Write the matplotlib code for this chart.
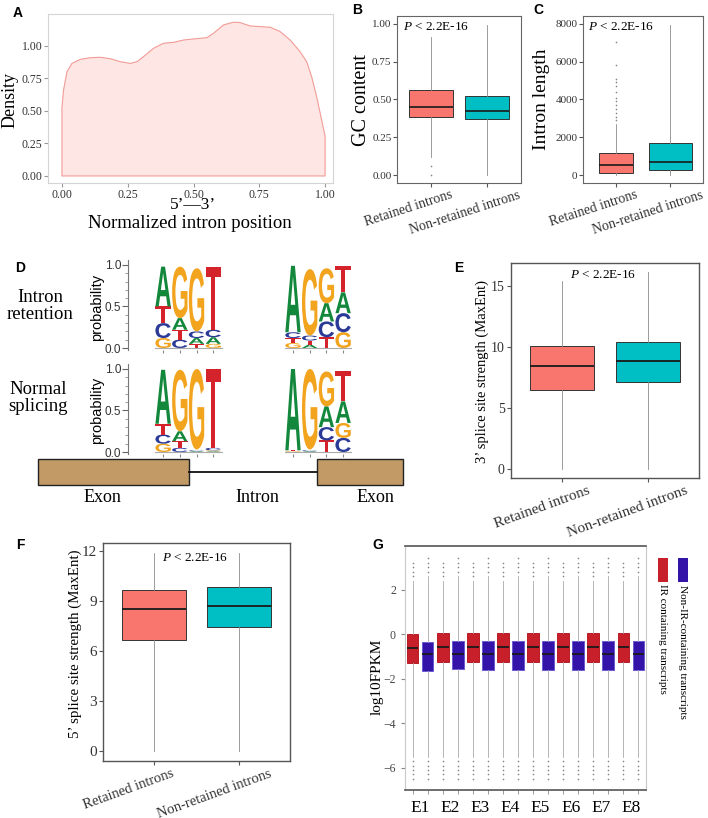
import numpy as np
import matplotlib
matplotlib.use("Agg")
import matplotlib.pyplot as plt
import matplotlib.transforms as mtransforms
from matplotlib.patches import PathPatch, Rectangle
from matplotlib.textpath import TextPath
from matplotlib.font_manager import FontProperties

plt.rcParams["font.family"] = "Liberation Serif"
plt.rcParams["mathtext.fontset"] = "custom"
plt.rcParams["mathtext.rm"] = "Liberation Serif"
plt.rcParams["mathtext.it"] = "Liberation Serif:italic"

# ---------------- data ----------------
# A: density of retained-intron positions along the normalized intron
pos_x = [0.0, 0.006, 0.019, 0.038, 0.07, 0.108, 0.146, 0.184, 0.222, 0.259, 0.285,
         0.31, 0.348, 0.386, 0.424, 0.462, 0.5, 0.551, 0.576, 0.614, 0.652, 0.677,
         0.715, 0.753, 0.791, 0.829, 0.867, 0.905, 0.93, 0.949, 0.968, 0.987, 1.0]
pos_density = [0.527, 0.661, 0.802, 0.866, 0.897, 0.91, 0.913, 0.902, 0.879, 0.866, 0.879,
               0.918, 0.982, 1.021, 1.028, 1.046, 1.054, 1.064, 1.098, 1.162, 1.183, 1.18,
               1.154, 1.149, 1.144, 1.111, 1.046, 0.956, 0.879, 0.763, 0.609, 0.429, 0.306]

groups = ["Retained introns", "Non-retained introns"]
group_colors = ["#F8766D", "#00BFC4"]

# B: GC content
gc_q1 = [0.383, 0.372]
gc_med = [0.448, 0.424]
gc_q3 = [0.561, 0.522]
gc_lo = [0.12, 0.0]
gc_hi = [0.91, 0.99]
gc_out = [[0.06, 0.0], []]

# C: intron length
len_q1 = [120, 260]
len_med = [554, 727]
len_q3 = [1160, 1731]
len_lo = [0, 0]
len_hi = [2700, 7950]
len_out = [[2900, 3100, 3300, 3500, 3700, 3900, 4100, 4400, 4700, 4900, 5100, 5800, 7050], []]

# E: 3' splice site strength
ss3_q1 = [6.48, 7.16]
ss3_med = [8.44, 8.88]
ss3_q3 = [10.08, 10.43]
ss3_lo = [0.0, 0.0]
ss3_hi = [15.43, 16.17]

# F: 5' splice site strength
ss5_q1 = [6.66, 7.42]
ss5_med = [8.5, 8.72]
ss5_q3 = [9.66, 9.82]
ss5_lo = [0.0, 0.0]
ss5_hi = [11.86, 11.86]

# D: sequence logos, probabilities per position in order A, C, G, T
bases = ["A", "C", "G", "T"]
ir_donor = [[0.48, 0.18, 0.12, 0.20], [0.14, 0.10, 0.62, 0.12],
            [0.07, 0.08, 0.76, 0.05], [0.08, 0.09, 0.05, 0.76]]
ir_acceptor = [[0.80, 0.07, 0.06, 0.06], [0.04, 0.06, 0.80, 0.05],
               [0.22, 0.19, 0.42, 0.13], [0.25, 0.23, 0.19, 0.32]]
ns_donor = [[0.65, 0.11, 0.10, 0.13], [0.12, 0.05, 0.74, 0.08],
            [0.01, 0.01, 0.97, 0.01], [0.01, 0.03, 0.01, 0.95]]
ns_acceptor = [[0.98, 0.0, 0.01, 0.01], [0.01, 0.01, 0.97, 0.01],
               [0.25, 0.16, 0.42, 0.14], [0.26, 0.17, 0.18, 0.36]]
base_colors = {"A": "#13883C", "C": "#2B3A97", "G": "#F2A41F", "T": "#D5232B"}

# G: log10 FPKM per experiment
expts = ["E1", "E2", "E3", "E4", "E5", "E6", "E7", "E8"]
ir_q1 = [-1.29, -1.25, -1.25, -1.25, -1.25, -1.25, -1.25, -1.25]
ir_med = [-0.60, -0.56, -0.57, -0.57, -0.57, -0.58, -0.58, -0.58]
ir_q3 = [0.00, 0.03, 0.04, 0.04, 0.04, 0.04, 0.04, 0.04]
ir_lo = [-5.5] * 8
ir_hi = [2.4] * 8
non_q1 = [-1.65, -1.57, -1.60, -1.60, -1.60, -1.60, -1.60, -1.60]
non_med = [-0.91, -0.90, -0.91, -0.91, -0.91, -0.91, -0.91, -0.91]
non_q3 = [-0.37, -0.31, -0.32, -0.32, -0.32, -0.32, -0.32, -0.32]
non_lo = [-5.5] * 8
non_hi = [2.6] * 8
ir_out = [-6.5, -6.3, -6.1, -5.9, -5.7, 2.6, 2.8, 3.0, 3.2]
non_out = [-6.5, -6.3, -6.1, -5.9, -5.7, 2.8, 3.0, 3.2, 3.4]
ir_color = "#C8202A"
non_color = "#3313A8"

# ---------------- helpers ----------------
W, H = 708, 818
fig = plt.figure(figsize=(7.08, 8.18), dpi=100)


def rect(l, t, r, b):
    return [l / W, 1 - b / H, (r - l) / W, (b - t) / H]


def ftext(x, y, s, **kw):
    return fig.text(x / W, 1 - y / H, s, **kw)


def frame(ax, color, lw=0.8):
    for s in ax.spines.values():
        s.set_color(color)
        s.set_linewidth(lw)


def draw_boxes(ax, q1, med, q3, lo, hi, out, positions, widths, colors,
               edge="#333333", whisk="#8c8c8c", med_lw=1.2):
    stats = [dict(q1=a, med=m, q3=b, whislo=l, whishi=h, fliers=f)
             for a, m, b, l, h, f in zip(q1, med, q3, lo, hi, out)]
    art = ax.bxp(stats, positions=positions, widths=widths, patch_artist=True,
                 showcaps=False,
                 boxprops=dict(edgecolor=edge, linewidth=0.7),
                 medianprops=dict(color="#1a1a1a", linewidth=med_lw),
                 whiskerprops=dict(color=whisk, linewidth=0.6),
                 flierprops=dict(marker="o", markersize=1.2, markerfacecolor="#888888",
                                 markeredgecolor="none"))
    for patch, c in zip(art["boxes"], colors):
        patch.set_facecolor(c)
    return art


def slant_labels(ax, rot, dx_px, size):
    offset = mtransforms.ScaledTranslation(dx_px / 100, 0, fig.dpi_scale_trans)
    for lab in ax.get_xticklabels():
        lab.set_rotation(rot)
        lab.set_ha("center")
        lab.set_fontsize(size)
        lab.set_transform(lab.get_transform() + offset)


def panel_label(x, y, s):
    ftext(x, y, s, ha="center", va="center", fontsize=10, fontweight="bold",
          family="Liberation Sans")


# ---------------- A ----------------
axA = fig.add_axes(rect(48, 14, 333, 183))
axA.fill(np.r_[pos_x, 1.0, 0.0], np.r_[pos_density, 0.0, 0.0],
         facecolor="#FDE6E4", edgecolor="#F29C97", lw=0.8)
axA.set_xlim(-0.053, 1.03)
axA.set_ylim(-0.054, 1.246)
axA.set_xticks([0, 0.25, 0.5, 0.75, 1.0], ["0.00", "0.25", "0.50", "0.75", "1.00"])
axA.set_yticks([0, 0.25, 0.5, 0.75, 1.0], ["0.00", "0.25", "0.50", "0.75", "1.00"])
axA.tick_params(labelsize=8.5, colors="#999999", labelcolor="#333333", length=3, pad=1)
frame(axA, "#d4d4d4")
ftext(10, 100, "Density", rotation=90, ha="center", va="center", fontsize=13)
ftext(193, 205, "5’—3’", ha="center", va="center", fontsize=12.5)
ftext(190, 223, "Normalized intron position", ha="center", va="center", fontsize=13.5)
panel_label(18, 13, "A")

# ---------------- B ----------------
axB = fig.add_axes(rect(397, 16, 521, 183))
draw_boxes(axB, gc_q1, gc_med, gc_q3, gc_lo, gc_hi, gc_out, [1, 2], 0.78, group_colors)
axB.set_xlim(0.4, 2.6)
axB.set_ylim(-0.05, 1.05)
axB.set_yticks([0, 0.25, 0.5, 0.75, 1.0], ["0.00", "0.25", "0.50", "0.75", "1.00"])
axB.set_xticks([1, 2], groups)
axB.tick_params(labelsize=8, colors="#555555", labelcolor="#333333", length=3, pad=1)
slant_labels(axB, 18, -22, 10)
frame(axB, "#666666")
axB.text(0.05, 0.935, r"$P$ < 2.2E-16", transform=axB.transAxes, fontsize=9.5, va="center")
ftext(361, 100, "GC content", rotation=90, ha="center", va="center", fontsize=14.5)
panel_label(357, 10, "B")

# ---------------- C ----------------
axC = fig.add_axes(rect(583, 16, 703, 183))
draw_boxes(axC, len_q1, len_med, len_q3, len_lo, len_hi, len_out, [1, 2], [0.62, 0.78],
           group_colors)
axC.set_xlim(0.4, 2.6)
axC.set_ylim(-400, 8400)
axC.set_yticks([0, 2000, 4000, 6000, 8000])
axC.set_xticks([1, 2], groups)
axC.tick_params(labelsize=8, colors="#555555", labelcolor="#333333", length=3, pad=1)
slant_labels(axC, 18, -22, 10)
frame(axC, "#666666")
axC.text(0.04, 0.935, r"$P$ < 2.2E-16", transform=axC.transAxes, fontsize=9.5, va="center")
ftext(541, 99, "Intron length", rotation=90, ha="center", va="center", fontsize=14)
panel_label(538, 10, "C")

# ---------------- D ----------------
LOGO_FONT = FontProperties(family="Liberation Sans", weight="bold")


def draw_letter(ax, ch, x, y, w, h):
    tp = TextPath((0, 0), ch, size=1, prop=LOGO_FONT)
    bb = tp.get_extents()
    tr = (mtransforms.Affine2D().translate(-bb.x0, -bb.y0)
          .scale(w / bb.width, h / bb.height).translate(x, y))
    ax.add_patch(PathPatch(tr.transform_path(tp), facecolor=base_colors[ch],
                           edgecolor="none"))


def draw_logo(ax, probs, start):
    for i, col in enumerate(probs):
        order = sorted(range(4), key=lambda k: col[k])
        y = 0.0
        for k in order:
            if col[k] > 0.004:
                draw_letter(ax, bases[k], start + i + 0.04, y, 0.92, col[k])
            y += col[k]
    ax.plot([start, start + len(probs)], [0, 0], color="#aaaaaa", lw=0.8)


logo_starts = [1.6, 9.37]
for (l, t, r, b), logos, ylab_y in [((128, 260, 362, 350), (ir_donor, ir_acceptor), 307),
                                    ((128, 364, 362, 454), (ns_donor, ns_acceptor), 410)]:
    ax = fig.add_axes(rect(l, t, r, b))
    for probs, st in zip(logos, logo_starts):
        draw_logo(ax, probs, st)
    ax.set_xlim(0, 14)
    ax.set_ylim(-0.024, 1.06)
    ax.set_yticks([0, 0.5, 1.0], ["0.0", "0.5", "1.0"])
    ax.set_yticks(np.arange(0, 1.01, 0.1), minor=True)
    centers = [st + i + 0.5 for st in logo_starts for i in range(4)]
    ax.set_xticks(centers, [""] * len(centers))
    ax.tick_params(axis="x", length=2, color="#888888")
    ax.tick_params(axis="y", which="major", length=4, color="#666666", labelsize=8.5,
                   labelcolor="#333333", pad=1)
    ax.tick_params(axis="y", which="minor", length=2, color="#888888")
    for lab in ax.get_yticklabels():
        lab.set_family("Liberation Sans")
    for s in ["top", "right", "bottom"]:
        ax.spines[s].set_visible(False)
    ax.spines["left"].set_color("#777777")
    ax.spines["left"].set_linewidth(0.8)
    ftext(97, ylab_y, "probability", rotation=90, ha="center", va="center",
          fontsize=10.5, family="Liberation Sans")

ftext(40, 306, "Intron\nretention", ha="center", va="center", fontsize=13.5, linespacing=0.95)
ftext(38, 398, "Normal\nsplicing", ha="center", va="center", fontsize=13.5, linespacing=0.95)

axGene = fig.add_axes(rect(30, 455, 410, 505))
axGene.set_xlim(0, 1)
axGene.set_ylim(0, 1)
axGene.axis("off")
axGene.plot([0.418, 0.755], [0.66, 0.66], color="#111111", lw=1.3)
for x0, x1 in [(0.021, 0.418), (0.755, 0.982)]:
    axGene.add_patch(Rectangle((x0, 0.40), x1 - x0, 0.52, facecolor="#C29A66",
                               edgecolor="#222222", lw=1.0))
ftext(102, 497, "Exon", ha="center", va="center", fontsize=13)
ftext(257, 497, "Intron", ha="center", va="center", fontsize=13)
ftext(375, 497, "Exon", ha="center", va="center", fontsize=13)
panel_label(20, 268, "D")

# ---------------- E ----------------
axE = fig.add_axes(rect(511, 263, 699, 478))
draw_boxes(axE, ss3_q1, ss3_med, ss3_q3, ss3_lo, ss3_hi, [[], []], [1, 2], 0.75,
           group_colors, med_lw=1.3)
axE.set_xlim(0.4, 2.6)
axE.set_ylim(-0.74, 16.9)
axE.set_yticks([0, 5, 10, 15])
axE.set_xticks([1, 2], groups)
axE.tick_params(labelsize=10, colors="#555555", labelcolor="#333333", length=3, pad=1.5)
slant_labels(axE, 20, -20, 11)
frame(axE, "#555555", 1.0)
axE.text(0.489, 0.944, r"$P$ < 2.2E-16", transform=axE.transAxes, fontsize=9.5,
         ha="center", va="center")
ftext(482, 371, "3’ splice site strength (MaxEnt)", rotation=90, ha="center", va="center",
      fontsize=10.5)
panel_label(459, 268, "E")

# ---------------- F ----------------
axF = fig.add_axes(rect(103, 543, 290, 761))
draw_boxes(axF, ss5_q1, ss5_med, ss5_q3, ss5_lo, ss5_hi, [[], []], [1, 2], 0.75,
           group_colors, med_lw=1.3)
axF.set_xlim(0.4, 2.6)
axF.set_ylim(-0.6, 12.48)
axF.set_yticks([0, 3, 6, 9, 12])
axF.set_xticks([1, 2], groups)
axF.tick_params(labelsize=11, colors="#555555", labelcolor="#333333", length=3, pad=1.5)
slant_labels(axF, 20, -25, 10.5)
frame(axF, "#555555", 1.0)
axF.text(0.49, 0.93, r"$P$ < 2.2E-16", transform=axF.transAxes, fontsize=9.5,
         ha="center", va="center")
ftext(75, 644, "5’ splice site strength (MaxEnt)", rotation=90, ha="center", va="center",
      fontsize=10.8)
panel_label(20, 545, "F")

# ---------------- G ----------------
axG = fig.add_axes(rect(405, 546, 646, 790))
xg = np.arange(1, len(expts) + 1)
draw_boxes(axG, ir_q1, ir_med, ir_q3, ir_lo, ir_hi, [ir_out] * len(expts), xg - 0.25, 0.39,
           [ir_color] * len(expts), edge="#B81C24", whisk="#aaaaaa", med_lw=1.3)
draw_boxes(axG, non_q1, non_med, non_q3, non_lo, non_hi, [non_out] * len(expts), xg + 0.25,
           0.39, [non_color] * len(expts), edge="#6a5ad0", whisk="#aaaaaa", med_lw=1.3)
axG.set_xlim(0.5, len(expts) + 0.5)
axG.set_ylim(-7.0, 3.96)
axG.set_yticks([-6, -4, -2, 0, 2])
axG.set_xticks(xg, expts)
axG.set_xticks(np.r_[xg - 0.25, xg + 0.25], minor=True)
axG.tick_params(axis="x", which="major", length=0, labelsize=12.5, pad=7)
axG.tick_params(axis="x", which="minor", length=3, color="#888888")
axG.tick_params(axis="y", labelsize=8.5, colors="#888888", labelcolor="#444444", length=3)
for s in ["left", "right"]:
    axG.spines[s].set_color("#c8c8c8")
    axG.spines[s].set_linewidth(0.8)
for s in ["top", "bottom"]:
    axG.spines[s].set_color("#555555")
    axG.spines[s].set_linewidth(1.2)
ftext(377, 677, "log10FPKM", rotation=90, ha="center", va="center", fontsize=11)

fig.add_artist(Rectangle((658 / W, 1 - 582 / H), 9.5 / W, 24 / H,
                         transform=fig.transFigure, facecolor=ir_color, edgecolor="none"))
fig.add_artist(Rectangle((678 / W, 1 - 582 / H), 9.5 / W, 24 / H,
                         transform=fig.transFigure, facecolor=non_color, edgecolor="none"))
ftext(662, 584, "IR containing transcripts", rotation=270, ha="center", va="top", fontsize=8)
ftext(683, 585, "Non-IR-containing transcripts", rotation=270, ha="center", va="top",
      fontsize=8)
panel_label(378, 545, "G")

fig.savefig("out.png", dpi=100)
